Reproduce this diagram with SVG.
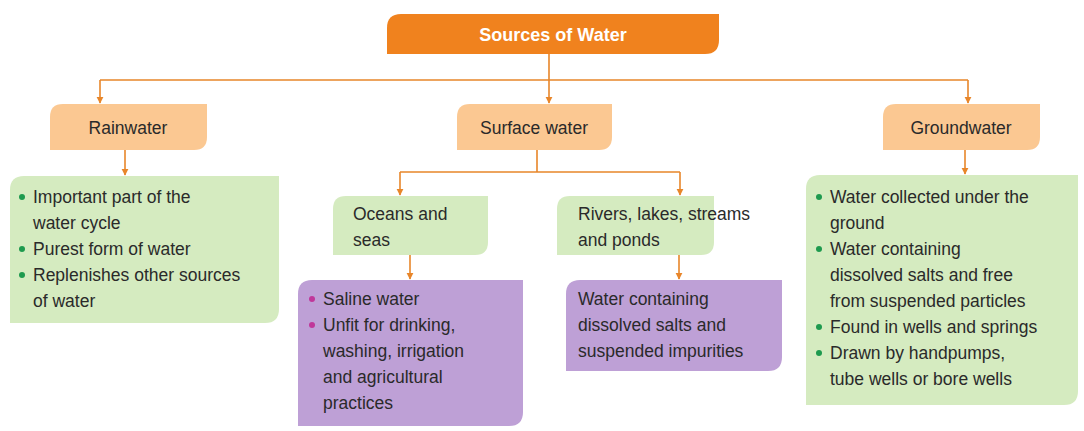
<svg xmlns="http://www.w3.org/2000/svg" width="1084" height="431" viewBox="0 0 1084 431">
<style>
text{font-family:"Liberation Sans",Arial,sans-serif;font-size:17.5px;fill:#2a2a2a}
.t{font-weight:bold;fill:#fff;font-size:18px}
.c{stroke:#e8862a;stroke-width:1.6;fill:none}
.gb{fill:#1e9a4e}.pb{fill:#c0379a}
</style>
<defs><marker id="a" viewBox="0 0 10 10" refX="9" refY="5" markerWidth="7" markerHeight="8" orient="auto" markerUnits="userSpaceOnUse"><path d="M0,0L10,5L0,10z" fill="#e8862a"/></marker></defs>
<g id="connectors">
<path class="c" d="M549,54V80M100,80H968"/>
<path class="c" d="M100,80V103" marker-end="url(#a)"/>
<path class="c" d="M549,80V103" marker-end="url(#a)"/>
<path class="c" d="M968,80V103" marker-end="url(#a)"/>
<path class="c" d="M125,150V175" marker-end="url(#a)"/>
<path class="c" d="M537,150V172M400,172H680"/>
<path class="c" d="M400,172V195" marker-end="url(#a)"/>
<path class="c" d="M680,172V195" marker-end="url(#a)"/>
<path class="c" d="M410,255V279" marker-end="url(#a)"/>
<path class="c" d="M679,255V279" marker-end="url(#a)"/>
<path class="c" d="M965,150V174" marker-end="url(#a)"/>
</g>
<g id="title"><path d="M401,14H719V40Q719,54 705,54H387V28Q387,14 401,14z" fill="#f0821e"/><text class="t" x="553" y="41" text-anchor="middle">Sources of Water</text></g>
<g id="rainwater"><path d="M63,104H207V137Q207,150 194,150H50V117Q50,104 63,104z" fill="#fbc892"/><text x="128" y="134" text-anchor="middle">Rainwater</text></g>
<g id="surface"><path d="M470,104H612V137Q612,150 599,150H457V117Q457,104 470,104z" fill="#fbc892"/><text x="534" y="134" text-anchor="middle">Surface water</text></g>
<g id="ground"><path d="M896,104H1040V137Q1040,150 1027,150H883V117Q883,104 896,104z" fill="#fbc892"/><text x="961" y="134" text-anchor="middle">Groundwater</text></g>
<g id="rain-info"><path d="M24,176H279V309Q279,323 265,323H10V190Q10,176 24,176z" fill="#d5ebc0"/>
<circle class="gb" cx="22" cy="197" r="3"/><circle class="gb" cx="22" cy="249" r="3"/><circle class="gb" cx="22" cy="275" r="3"/>
<text x="33" y="203">Important part of the</text><text x="33" y="229">water cycle</text><text x="33" y="255">Purest form of water</text><text x="33" y="281">Replenishes other sources</text><text x="33" y="307">of water</text></g>
<g id="oceans"><path d="M346,196H488V242Q488,255 475,255H333V209Q333,196 346,196z" fill="#d5ebc0"/><text x="353" y="220">Oceans and</text><text x="353" y="246">seas</text></g>
<g id="rivers"><path d="M570,196H714V242Q714,255 701,255H557V209Q557,196 570,196z" fill="#d5ebc0"/><text x="578" y="220">Rivers, lakes, streams</text><text x="578" y="246">and ponds</text></g>
<g id="oceans-info"><path d="M312,280H523V412Q523,426 509,426H298V294Q298,280 312,280z" fill="#bea0d6"/>
<circle class="pb" cx="312" cy="299" r="3"/><circle class="pb" cx="312" cy="325" r="3"/>
<text x="323" y="305">Saline water</text><text x="323" y="331">Unfit for drinking,</text><text x="323" y="357">washing, irrigation</text><text x="323" y="383">and agricultural</text><text x="323" y="409">practices</text></g>
<g id="rivers-info"><path d="M580,280H782V357Q782,371 768,371H566V294Q566,280 580,280z" fill="#bea0d6"/>
<text x="578" y="305">Water containing</text><text x="578" y="331">dissolved salts and</text><text x="578" y="357">suspended impurities</text></g>
<g id="ground-info"><path d="M820,175H1078V391Q1078,405 1064,405H806V189Q806,175 820,175z" fill="#d5ebc0"/>
<circle class="gb" cx="819" cy="197" r="3"/><circle class="gb" cx="819" cy="249" r="3"/><circle class="gb" cx="819" cy="327" r="3"/><circle class="gb" cx="819" cy="353" r="3"/>
<text x="830" y="203">Water collected under the</text><text x="830" y="229">ground</text><text x="830" y="255">Water containing</text><text x="830" y="281">dissolved salts and free</text><text x="830" y="307">from suspended particles</text><text x="830" y="333">Found in wells and springs</text><text x="830" y="359">Drawn by handpumps,</text><text x="830" y="385">tube wells or bore wells</text></g>
</svg>
